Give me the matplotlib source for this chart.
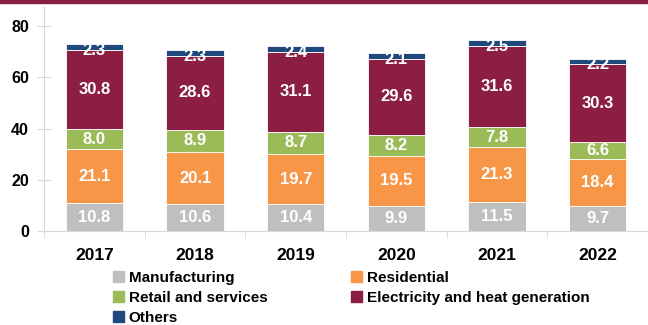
import numpy as np
import matplotlib.pyplot as plt
from matplotlib.patches import Rectangle, Patch

years = ['2017', '2018', '2019', '2020', '2021', '2022']
manufacturing = [10.8, 10.6, 10.4, 9.9, 11.5, 9.7]
residential = [21.1, 20.1, 19.7, 19.5, 21.3, 18.4]
retail = [8.0, 8.9, 8.7, 8.2, 7.8, 6.6]
electricity = [30.8, 28.6, 31.1, 29.6, 31.6, 30.3]
others = [2.3, 2.3, 2.4, 2.1, 2.5, 2.2]

names = ['Manufacturing', 'Residential', 'Retail and services',
         'Electricity and heat generation', 'Others']
colors = ['#BFBFBF', '#F79646', '#9BBB59', '#8C1F41', '#1F497D']
series = [manufacturing, residential, retail, electricity, others]

plt.rcParams['font.family'] = ['Liberation Sans', 'DejaVu Sans']
plt.rcParams['font.weight'] = 'bold'

fig = plt.figure(figsize=(6.48, 3.25), dpi=100)
ax = fig.add_axes([0.068, 0.289, 0.932, 0.694])

x = np.arange(len(years))
bottom = np.zeros(len(years))
for k, (vals, col) in enumerate(zip(series, colors)):
    vals = np.array(vals)
    ax.bar(x, vals, 0.57, bottom=bottom, color=col, edgecolor='white', linewidth=0.6)
    shift = -1.3 if k == 4 else 0  # thin top segment: label sits a bit lower
    for xi, b, v in zip(x, bottom, vals):
        ax.text(xi, b + v / 2 + shift, '%.1f' % v, ha='center', va='center',
                color='white', fontsize=12, fontweight='bold')
    bottom += vals

ax.set_xlim(-0.5, 5.5)
ax.set_ylim(0, 88)
ax.set_yticks([0, 20, 40, 60, 80])
ax.set_xticks(x)
ax.set_xticklabels(years)
ax.set_xticks(np.arange(-0.5, 6, 1), minor=True)
ax.tick_params(axis='x', which='major', length=0, pad=12, labelsize=12.5)
ax.tick_params(axis='x', which='minor', length=5, color='#D9D9D9', direction='out')
ax.tick_params(axis='y', length=10, direction='inout', color='#D9D9D9', labelsize=11.5, pad=6)
for s in ['top', 'right']:
    ax.spines[s].set_visible(False)
ax.spines['left'].set_color('#D9D9D9')
ax.spines['bottom'].set_color('#D9D9D9')

# dark red band on top of the figure
fig.patches.append(Rectangle((0, 0.99), 1, 0.01, transform=fig.transFigure,
                             color='#8C1F41', zorder=5))

order = [0, 2, 4, 1, 3]
handles = [Patch(color=colors[i]) for i in order]
labels = [names[i] for i in order]
fig.legend(handles, labels, ncol=2, loc='upper left', bbox_to_anchor=(0.163, 0.19),
           frameon=False, fontsize=11, handlelength=0.7, handleheight=0.7,
           handletextpad=0.3, columnspacing=5.5, labelspacing=0.4, borderpad=0)

fig.savefig('out.png', dpi=100)
